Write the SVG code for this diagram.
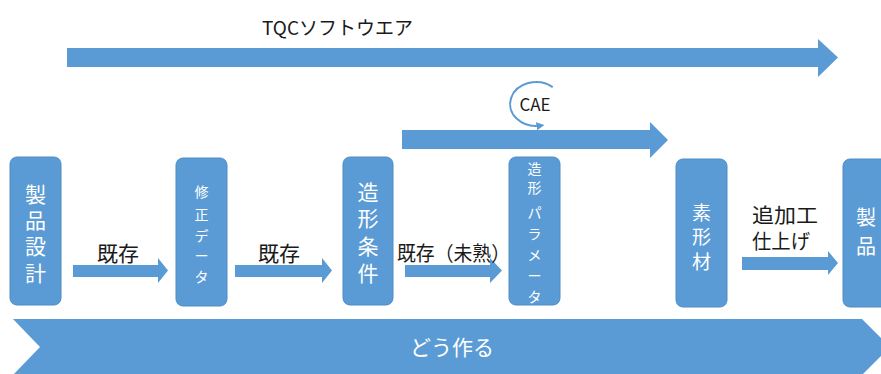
<svg xmlns="http://www.w3.org/2000/svg" width="881" height="374" viewBox="0 0 881 374">
<style>
.node{fill:#5b9bd5;stroke:#4f8cc4;stroke-width:1}
.arrow{fill:#5b9bd5}
.nt{font-family:"Noto Sans CJK JP","Noto Sans",sans-serif;fill:#ffffff;text-anchor:middle}
.lbl{font-family:"Noto Sans CJK JP","Noto Sans",sans-serif;fill:#1a1a1a}
</style>
<defs>
<marker id="ah" viewBox="0 0 10 10" refX="5" refY="5" markerWidth="4" markerHeight="4" orient="auto">
<path d="M0,0 L10,5 L0,10 z" fill="#5b9bd5"/>
</marker>
</defs>
<rect width="881" height="374" fill="#ffffff"/>

<g id="connectors">
<polygon class="arrow" points="67,48 818,48 818,39 838,57.5 818,77 818,67 67,67"/>
<polygon class="arrow" points="402,130 650,130 650,122 668,140 650,158 650,149 402,149"/>
<polygon class="arrow" points="73,265 158,265 158,258 168,270.5 158,283 158,277 73,277"/>
<polygon class="arrow" points="235,265 322,265 322,258 332,270.5 322,283 322,277 235,277"/>
<polygon class="arrow" points="405,265 490,265 490,258 502,270.5 490,283 490,277 405,277"/>
<polygon class="arrow" points="742,257 828,257 828,251 838,263 828,275 828,270 742,270"/>
<polygon class="arrow" points="13,319 862,319 890,347 862,375 13,375 40,347"/>
<path d="M552.7,87.1 A26,22 0 1 0 540.5,125.7" fill="none" stroke="#5b9bd5" stroke-width="2" marker-end="url(#ah)"/>
</g>

<g id="label-tqc"><text class="lbl" x="262" y="35" font-size="19" fill="#333">TQCソフトウエア</text></g>
<g id="label-cae"><text class="lbl" x="535" y="111" font-size="17" text-anchor="middle">CAE</text></g>
<g id="label-how"><text class="nt" x="452" y="355" font-size="21">どう作る</text></g>
<g id="label-1"><text class="lbl" x="97" y="261" font-size="21">既存</text></g>
<g id="label-2"><text class="lbl" x="258" y="261" font-size="21">既存</text></g>
<g id="label-3"><text class="lbl" x="397" y="261" font-size="20" textLength="113" lengthAdjust="spacingAndGlyphs">既存（未熟）</text></g>
<g id="label-4"><text class="lbl" x="752" y="223" font-size="20" textLength="66" lengthAdjust="spacingAndGlyphs">追加工</text><text class="lbl" x="752" y="249" font-size="20" textLength="58" lengthAdjust="spacingAndGlyphs">仕上げ</text></g>

<g id="node-seihin-sekkei">
<rect class="node" x="10" y="157" width="51" height="148" rx="7"/>
<text class="nt" font-size="21"><tspan x="35.5" y="202">製</tspan><tspan x="35.5" y="228">品</tspan><tspan x="35.5" y="254">設</tspan><tspan x="35.5" y="281">計</tspan></text>
</g>
<g id="node-shusei-data">
<rect class="node" x="176" y="158" width="51" height="148" rx="7"/>
<text class="nt" font-size="14"><tspan x="201.5" y="197">修</tspan><tspan x="201.5" y="220">正</tspan><tspan x="201.5" y="241">デ</tspan><tspan x="201.5" y="261">ー</tspan><tspan x="201.5" y="282">タ</tspan></text>
</g>
<g id="node-zokei-joken">
<rect class="node" x="343" y="157" width="50" height="148" rx="7"/>
<text class="nt" font-size="21"><tspan x="368" y="200">造</tspan><tspan x="368" y="226">形</tspan><tspan x="368" y="254">条</tspan><tspan x="368" y="281">件</tspan></text>
</g>
<g id="node-zokei-param">
<rect class="node" x="509" y="157" width="51" height="148" rx="7"/>
<text class="nt" font-size="14"><tspan x="534.5" y="174">造</tspan><tspan x="534.5" y="193">形</tspan><tspan x="534.5" y="218">パ</tspan><tspan x="534.5" y="239">ラ</tspan><tspan x="534.5" y="260">メ</tspan><tspan x="534.5" y="281">ー</tspan><tspan x="534.5" y="302">タ</tspan></text>
</g>
<g id="node-sokeizai">
<rect class="node" x="676" y="159" width="51" height="148" rx="7"/>
<text class="nt" font-size="19"><tspan x="701.5" y="220">素</tspan><tspan x="701.5" y="244">形</tspan><tspan x="701.5" y="269">材</tspan></text>
</g>
<g id="node-seihin">
<rect class="node" x="843" y="159" width="51" height="148" rx="7"/>
<text class="nt" font-size="20"><tspan x="866" y="225">製</tspan><tspan x="866" y="254">品</tspan></text>
</g>
</svg>
